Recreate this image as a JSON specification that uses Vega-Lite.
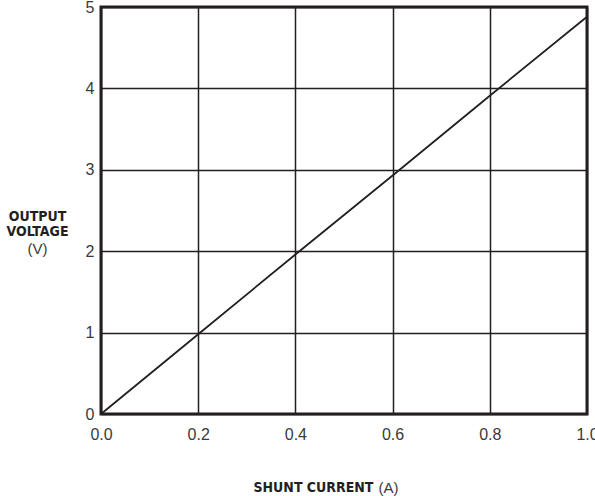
{
  "$schema": "https://vega.github.io/schema/vega-lite/v6.json",
  "autosize": "none",
  "width": 486,
  "height": 407,
  "padding": {"left": 101, "top": 7, "right": 8, "bottom": 82},
  "background": "white",
  "config": {
    "view": {"stroke": "#231f20", "strokeWidth": 3},
    "axis": {
      "labelFont": "Liberation Sans",
      "labelFontSize": 16,
      "labelColor": "#3a3a3a",
      "ticks": false,
      "domain": false,
      "gridColor": "#231f20",
      "gridWidth": 1.5,
      "gridOpacity": 1,
      "titleFont": "'DejaVu Sans Condensed', Roboto, sans-serif",
      "titleFontSize": 14,
      "titleColor": "#231f20",
      "labelOverlap": false
    }
  },
  "data": {
    "values": [
      {"current": 0.0, "voltage": 0.0},
      {"current": 0.2, "voltage": 0.98},
      {"current": 0.4, "voltage": 1.96},
      {"current": 0.6, "voltage": 2.93},
      {"current": 0.8, "voltage": 3.91},
      {"current": 1.0, "voltage": 4.88}
    ]
  },
  "resolve": {"axis": {"x": "independent", "y": "independent"}},
  "layer": [
    {
      "mark": {"type": "line", "color": "#231f20", "strokeWidth": 1.8},
      "encoding": {
        "x": {
          "field": "current",
          "type": "quantitative",
          "scale": {"domain": [0, 1], "nice": false},
          "axis": {
            "orient": "bottom",
            "values": [0, 0.2, 0.4, 0.6, 0.8, 1.0],
            "format": ".1f",
            "labelFlush": false,
            "labelPadding": 12,
            "grid": true,
            "title": "SHUNT CURRENT",
            "titleFontWeight": "bold",
            "titleAlign": "left",
            "titleAnchor": "start",
            "titleBaseline": "middle",
            "titleX": 152,
            "titleY": 73
          }
        },
        "y": {
          "field": "voltage",
          "type": "quantitative",
          "scale": {"domain": [0, 5], "nice": false},
          "axis": {
            "orient": "left",
            "values": [0, 1, 2, 3, 4, 5],
            "labelPadding": 7,
            "labelDy": 2,
            "grid": true,
            "title": ["OUTPUT", "VOLTAGE"],
            "titleFontWeight": "bold",
            "titleAngle": 0,
            "titleAlign": "center",
            "titleBaseline": "top",
            "titleLineHeight": 15,
            "titleX": -64,
            "titleY": 202
          }
        }
      }
    },
    {
      "mark": {"type": "point", "opacity": 0},
      "encoding": {
        "x": {
          "field": "current",
          "type": "quantitative",
          "axis": {
            "orient": "bottom",
            "labels": false,
            "grid": false,
            "title": "(A)",
            "titleFont": "Liberation Sans",
            "titleFontSize": 15,
            "titleFontWeight": "normal",
            "titleColor": "#3a3a3a",
            "titleAlign": "left",
            "titleAnchor": "start",
            "titleBaseline": "middle",
            "titleX": 277,
            "titleY": 73
          }
        },
        "y": {
          "field": "voltage",
          "type": "quantitative",
          "axis": {
            "orient": "left",
            "labels": false,
            "grid": false,
            "title": "(V)",
            "titleFont": "Liberation Sans",
            "titleFontSize": 15,
            "titleFontWeight": "normal",
            "titleColor": "#3a3a3a",
            "titleAngle": 0,
            "titleAlign": "center",
            "titleBaseline": "top",
            "titleX": -64,
            "titleY": 234
          }
        }
      }
    }
  ]
}
